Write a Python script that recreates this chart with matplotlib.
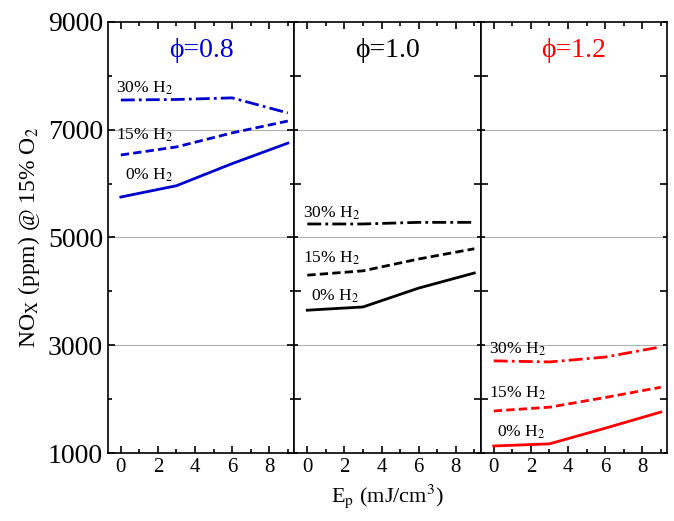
import matplotlib
matplotlib.use("Agg")
import matplotlib.pyplot as plt
from matplotlib.ticker import MultipleLocator

plt.rcParams['font.family'] = ['Liberation Serif', 'DejaVu Serif']
plt.rcParams['mathtext.fontset'] = 'stix'

ep = [0, 3, 6, 9]
phis = ["0.8", "1.0", "1.2"]
colors = ["#0000cc", "black", "red"]
h2_labels = ["0% H$_2$", "15% H$_2$", "30% H$_2$"]

nox = {
	"0.8": [[5750, 5960, 6370, 6750], [6530, 6680, 6940, 7160], [7550, 7560, 7590, 7310]],
	"1.0": [[3650, 3710, 4060, 4340], [4300, 4380, 4600, 4790], [5250, 5250, 5280, 5280]],
	"1.2": [[1130, 1170, 1460, 1760], [1780, 1850, 2030, 2220], [2710, 2690, 2780, 2970]],
}
label_y = {
	"0.8": [6160, 6900, 7770],
	"1.0": [3900, 4620, 5440],
	"1.2": [1390, 2100, 2930],
}
styles = ["-", (0, (3, 1.5)), (0, (5, 1.5, 1, 1.5))]

fig = plt.figure(figsize=(6.74, 5.21), dpi=100)
left, right, bottom, top = 0.160, 0.990, 0.1305, 0.958
w = (right - left) / 3
axes = []
for i, phi in enumerate(phis):
	ax = fig.add_axes([left + i * w, bottom, w, top - bottom])
	axes.append(ax)
	for s in ax.spines.values():
		s.set_linewidth(1.2)
	for g in [3000, 5000, 7000]:
		ax.axhline(g, color="#b0b0b0", lw=0.8, zorder=0)
	for j in range(3):
		ax.plot(ep, nox[phi][j], ls=styles[j], color=colors[i], lw=2)
		ax.text(-0.25 if j else 0.2, label_y[phi][j], h2_labels[j], fontsize=12.5, color="black", va="center")
	ax.set_xlim(-0.7, 9.35)
	ax.set_ylim(1000, 9000)
	ax.xaxis.set_major_locator(MultipleLocator(2))
	ax.xaxis.set_minor_locator(MultipleLocator(1))
	ax.yaxis.set_major_locator(MultipleLocator(2000))
	ax.yaxis.set_minor_locator(MultipleLocator(1000))
	ax.tick_params(which="both", direction="in", top=True, right=True, labelsize=15, width=1.2)
	ax.tick_params(which="major", length=5)
	ax.tick_params(which="minor", length=3)
	ax.set_title("\u03d5=" + phi, color=colors[i], fontsize=20, y=0.9)
	if i > 0:
		ax.tick_params(labelleft=False)
	else:
		ax.set_yticks([1000, 3000, 5000, 7000, 9000])
		ax.tick_params(axis="y", labelsize=20)
		ax.set_ylabel("NO$_\\mathrm{X}$ (ppm) @ 15% O$_2$", fontsize=17)

axes[1].set_xlabel("E$_\\mathrm{p}$ (mJ/cm$^3$)", fontsize=16)
fig.savefig("out.png", dpi=100)
